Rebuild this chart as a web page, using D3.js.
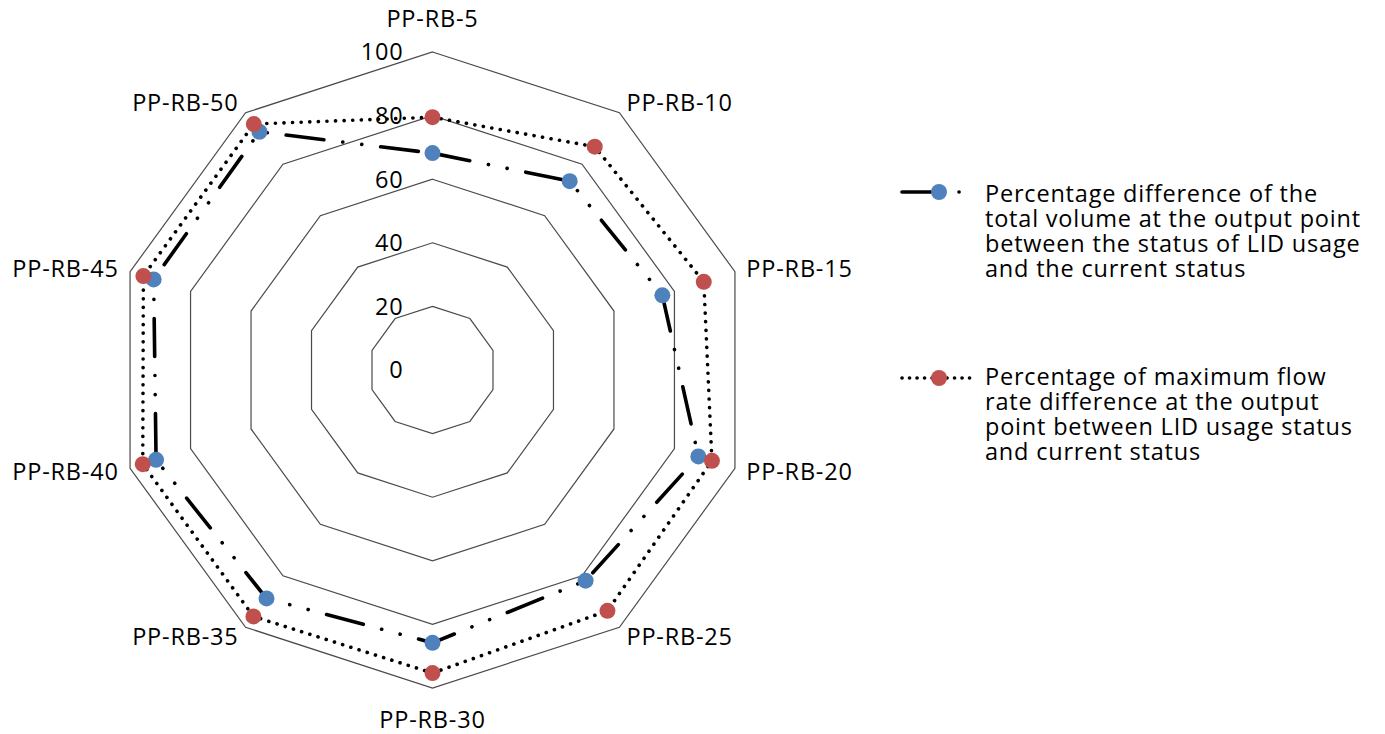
<!DOCTYPE html>
<html>
<head>
<meta charset="utf-8">
<script src="https://cdn.jsdelivr.net/npm/d3@7"></script>
<style>
  html, body { margin: 0; padding: 0; background: #fff; }
  svg text { font-family: "Open Sans", Lato, sans-serif; fill: #000; font-weight: 500; letter-spacing: 0.8px; }
</style>
</head>
<body>
<svg id="chart" width="1385" height="734"></svg>
<script>
// Stations around the radar
const categories = ["PP-RB-5", "PP-RB-10", "PP-RB-15", "PP-RB-20", "PP-RB-25",
                    "PP-RB-30", "PP-RB-35", "PP-RB-40", "PP-RB-45", "PP-RB-50"];

// Percentage difference of total volume (LID usage vs current)
const volumeDiff = [68.2, 73.4, 76.0, 87.9, 81.9, 85.8, 88.8, 91.4, 92.2, 92.6];

// Percentage of maximum flow rate difference (LID usage vs current)
const flowDiff = [79.5, 86.8, 89.7, 92.4, 93.6, 95.3, 95.8, 95.8, 95.6, 95.6];

const radialTicks = [0, 20, 40, 60, 80, 100];

const legendLines = [
  ["Percentage difference of the", "total volume at the output point",
   "between the status of LID usage", "and the current status"],
  ["Percentage of maximum flow", "rate difference at the output",
   "point between LID usage status", "and current status"]
];

const FONT = 23.5;
const svg = d3.select("#chart");
const cx = 432.5, cy = 370, R = 318;
const n = categories.length;
const angle = i => i * 2 * Math.PI / n;

const r = d3.scaleLinear().domain([0, 100]).range([0, R]);

const g = svg.append("g").attr("transform", `translate(${cx},${cy})`);

// Decagon grid rings
const ringLine = d3.lineRadial()
  .angle((d, i) => angle(i))
  .radius(d => r(d))
  .curve(d3.curveLinearClosed);

g.selectAll("path.ring")
  .data(radialTicks.filter(t => t > 0))
  .join("path")
  .attr("class", "ring")
  .attr("d", t => ringLine(categories.map(() => t)))
  .attr("fill", "none")
  .attr("stroke", "#4a4a4a")
  .attr("stroke-width", 1.2);

// Radial axis values along the top spoke
g.selectAll("text.tick")
  .data(radialTicks)
  .join("text")
  .attr("class", "tick")
  .attr("x", -29)
  .attr("y", t => -r(t))
  .attr("dy", "0.36em")
  .attr("text-anchor", "end")
  .attr("font-size", FONT)
  .text(t => t);

// Category labels around the outside
g.selectAll("text.cat")
  .data(categories)
  .join("text")
  .attr("class", "cat")
  .attr("font-size", FONT)
  .each(function (d, i) {
    const a = angle(i);
    const s = Math.sin(a), c = Math.cos(a);
    const el = d3.select(this);
    if (Math.abs(s) < 0.1) {
      el.attr("x", 0).attr("text-anchor", "middle");
      if (c > 0) el.attr("y", -R - 25);
      else el.attr("y", R + 40);
    } else {
      const pr = R + 12;
      el.attr("x", pr * s)
        .attr("y", -pr * c)
        .attr("dy", "0.36em")
        .attr("text-anchor", s > 0 ? "start" : "end");
    }
  })
  .text(d => d);

// Series definitions
const series = [
  { values: volumeDiff, color: "#4F81BD", dash: "38 19 0.1 19 0.1 19", width: 3.6 },
  { values: flowDiff,   color: "#C0504D", dash: "0.1 8.5",             width: 3.6 }
];

const seriesLine = d3.lineRadial()
  .angle((d, i) => angle(i))
  .radius(d => r(d))
  .curve(d3.curveLinearClosed);

series.forEach(s => {
  g.append("path")
    .attr("d", seriesLine(s.values))
    .attr("fill", "none")
    .attr("stroke", "#000")
    .attr("stroke-width", s.width)
    .attr("stroke-linecap", "round")
    .attr("stroke-dasharray", s.dash);

  g.selectAll(null)
    .data(s.values)
    .join("circle")
    .attr("cx", (d, i) => r(d) * Math.sin(angle(i)))
    .attr("cy", (d, i) => -r(d) * Math.cos(angle(i)))
    .attr("r", 8)
    .attr("fill", s.color);
});

// Legend
const legendTop = [202, 385];
const markerY = [192, 378];
series.forEach((s, k) => {
  const lg = svg.append("g");
  lg.append("line")
    .attr("x1", 902).attr("x2", 976)
    .attr("y1", markerY[k]).attr("y2", markerY[k])
    .attr("stroke", "#000")
    .attr("stroke-width", s.width)
    .attr("stroke-linecap", "round")
    .attr("stroke-dasharray", k === 0 ? "36 21 0.1 40" : "0.1 7.4");
  lg.append("circle")
    .attr("cx", 939).attr("cy", markerY[k])
    .attr("r", 8).attr("fill", s.color);
  lg.append("text")
    .attr("font-size", FONT)
    .selectAll("tspan")
    .data(legendLines[k])
    .join("tspan")
    .attr("x", 985)
    .attr("y", (d, i) => legendTop[k] + i * 25)
    .text(d => d);
});
</script>
</body>
</html>
